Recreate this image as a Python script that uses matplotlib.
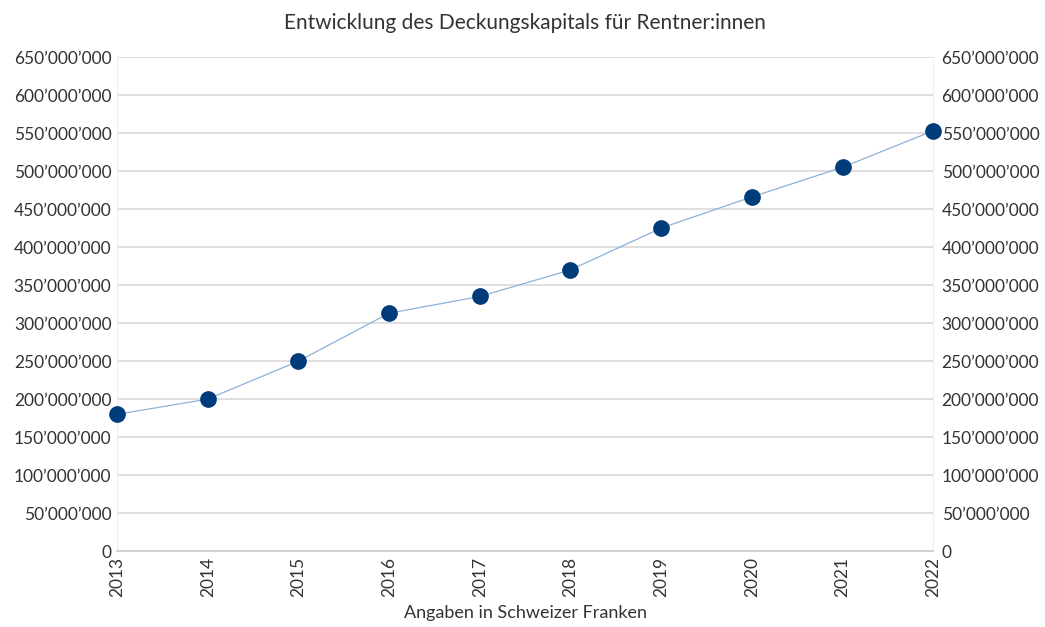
import matplotlib
matplotlib.use("Agg")
import matplotlib.pyplot as plt
from matplotlib.ticker import FuncFormatter, MultipleLocator

plt.rcParams['font.family'] = ['Lato', 'DejaVu Sans']

years = [2013, 2014, 2015, 2016, 2017, 2018, 2019, 2020, 2021, 2022]
kapital = [180e6, 200e6, 250e6, 313e6, 335e6, 370e6, 425e6, 466e6, 505e6, 553e6]


def chf(v, pos):
    if v == 0:
        return "0"
    return f"{int(round(v)):,}".replace(",", "’")


fig = plt.figure(figsize=(10.45, 6.27), dpi=100)
ax = fig.add_axes([0.112, 0.121, 0.781, 0.788])

ax.plot(years, kapital, color="#8fb1d3", linewidth=0.9, zorder=3,
        marker="o", markersize=11, markerfacecolor="#003b7a",
        markeredgecolor="#003b7a", clip_on=False)

ax.set_xlim(2013, 2022)
ax.set_ylim(0, 650e6)
ax.yaxis.set_major_locator(MultipleLocator(50e6))
ax.yaxis.set_major_formatter(FuncFormatter(chf))
ax.set_xticks(years)
ax.set_xticklabels([str(y) for y in years], rotation=90)
ax.grid(axis="y", color="#d9d9d9", linewidth=1.2)
ax.set_axisbelow(True)

ax.spines["top"].set_visible(False)
ax.spines["left"].set_color("#eeeeee")
ax.spines["right"].set_color("#eeeeee")
ax.spines["bottom"].set_color("#cccccc")
ax.spines["bottom"].set_linewidth(1.2)
ax.tick_params(length=0, labelsize=12.5, colors="#333333", pad=4)

ax2 = ax.twinx()
ax2.set_ylim(ax.get_ylim())
ax2.yaxis.set_major_locator(MultipleLocator(50e6))
ax2.yaxis.set_major_formatter(FuncFormatter(chf))
ax2.tick_params(length=0, labelsize=12.5, colors="#333333", pad=6)
for s in ax2.spines.values():
    s.set_visible(False)

ax.set_title("Entwicklung des Deckungskapitals für Rentner:innen",
             fontsize=15, color="#333333", pad=20)
ax.set_xlabel("Angaben in Schweizer Franken", fontsize=13, color="#333333", labelpad=6)

fig.savefig("out.png", dpi=100)
